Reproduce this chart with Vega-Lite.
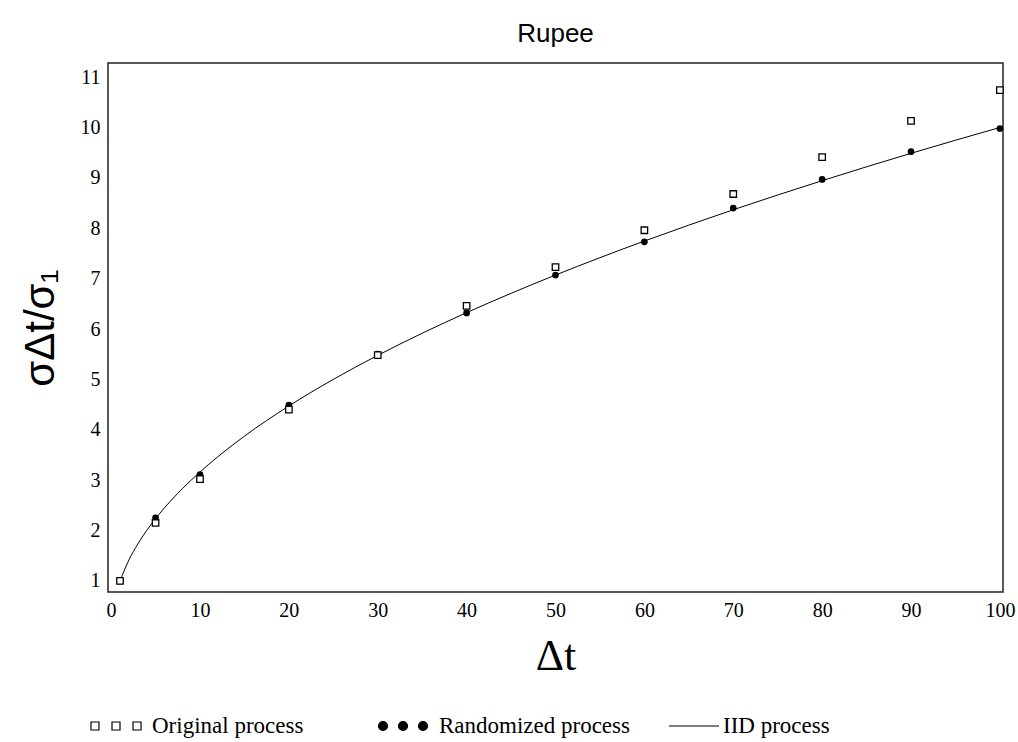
{
  "$schema": "https://vega.github.io/schema/vega-lite/v6.json",
  "autosize": {"type": "none"},
  "padding": {"left": 108, "top": 63, "right": 15, "bottom": 150},
  "width": 895,
  "height": 529,
  "background": "white",
  "title": {
    "text": "Rupee",
    "font": "Liberation Sans",
    "fontSize": 26,
    "fontWeight": "normal",
    "color": "black",
    "anchor": "middle",
    "offset": 16
  },
  "config": {
    "view": {"stroke": "#222", "strokeWidth": 1.5},
    "axis": {
      "domain": false,
      "ticks": false,
      "grid": false,
      "labelFont": "Liberation Serif",
      "labelFontSize": 20,
      "labelColor": "black",
      "labelPadding": 8,
      "titleColor": "black",
      "titleFontWeight": "normal"
    },
    "legend": {
      "padding": 0,
      "labelFont": "Liberation Serif",
      "labelFontSize": 23,
      "labelColor": "black",
      "labelLimit": 400,
      "symbolSize": 2500,
      "symbolStrokeColor": "black",
      "symbolStrokeWidth": 1.2,
      "symbolOpacity": 1
    }
  },
  "datasets": {
    "original": [
      {"dt": 1, "ratio": 1.0, "series": "Original process"},
      {"dt": 5, "ratio": 2.15, "series": "Original process"},
      {"dt": 10, "ratio": 3.02, "series": "Original process"},
      {"dt": 20, "ratio": 4.4, "series": "Original process"},
      {"dt": 30, "ratio": 5.48, "series": "Original process"},
      {"dt": 40, "ratio": 6.46, "series": "Original process"},
      {"dt": 50, "ratio": 7.23, "series": "Original process"},
      {"dt": 60, "ratio": 7.96, "series": "Original process"},
      {"dt": 70, "ratio": 8.68, "series": "Original process"},
      {"dt": 80, "ratio": 9.41, "series": "Original process"},
      {"dt": 90, "ratio": 10.13, "series": "Original process"},
      {"dt": 100, "ratio": 10.74, "series": "Original process"}
    ],
    "randomized": [
      {"dt": 1, "ratio": 1.0, "series": "Randomized process"},
      {"dt": 5, "ratio": 2.25, "series": "Randomized process"},
      {"dt": 10, "ratio": 3.11, "series": "Randomized process"},
      {"dt": 20, "ratio": 4.49, "series": "Randomized process"},
      {"dt": 30, "ratio": 5.5, "series": "Randomized process"},
      {"dt": 40, "ratio": 6.32, "series": "Randomized process"},
      {"dt": 50, "ratio": 7.07, "series": "Randomized process"},
      {"dt": 60, "ratio": 7.73, "series": "Randomized process"},
      {"dt": 70, "ratio": 8.4, "series": "Randomized process"},
      {"dt": 80, "ratio": 8.97, "series": "Randomized process"},
      {"dt": 90, "ratio": 9.52, "series": "Randomized process"},
      {"dt": 100, "ratio": 9.98, "series": "Randomized process"}
    ],
    "iid": [
      {"dt": 1, "ratio": 1.0, "series": "IID process"},
      {"dt": 2, "ratio": 1.414, "series": "IID process"},
      {"dt": 3, "ratio": 1.732, "series": "IID process"},
      {"dt": 4, "ratio": 2.0, "series": "IID process"},
      {"dt": 5, "ratio": 2.236, "series": "IID process"},
      {"dt": 6, "ratio": 2.449, "series": "IID process"},
      {"dt": 8, "ratio": 2.828, "series": "IID process"},
      {"dt": 10, "ratio": 3.162, "series": "IID process"},
      {"dt": 12, "ratio": 3.464, "series": "IID process"},
      {"dt": 15, "ratio": 3.873, "series": "IID process"},
      {"dt": 20, "ratio": 4.472, "series": "IID process"},
      {"dt": 25, "ratio": 5.0, "series": "IID process"},
      {"dt": 30, "ratio": 5.477, "series": "IID process"},
      {"dt": 35, "ratio": 5.916, "series": "IID process"},
      {"dt": 40, "ratio": 6.325, "series": "IID process"},
      {"dt": 45, "ratio": 6.708, "series": "IID process"},
      {"dt": 50, "ratio": 7.071, "series": "IID process"},
      {"dt": 55, "ratio": 7.416, "series": "IID process"},
      {"dt": 60, "ratio": 7.746, "series": "IID process"},
      {"dt": 65, "ratio": 8.062, "series": "IID process"},
      {"dt": 70, "ratio": 8.367, "series": "IID process"},
      {"dt": 75, "ratio": 8.66, "series": "IID process"},
      {"dt": 80, "ratio": 8.944, "series": "IID process"},
      {"dt": 85, "ratio": 9.22, "series": "IID process"},
      {"dt": 90, "ratio": 9.487, "series": "IID process"},
      {"dt": 95, "ratio": 9.747, "series": "IID process"},
      {"dt": 100, "ratio": 10.0, "series": "IID process"}
    ]
  },
  "encoding": {
    "x": {
      "field": "dt",
      "type": "quantitative",
      "scale": {"domain": [-0.35, 100.35], "nice": false, "zero": false},
      "axis": {
        "values": [0, 10, 20, 30, 40, 50, 60, 70, 80, 90, 100],
        "title": "Δt",
        "titleFont": "Liberation Serif",
        "titleFontSize": 44,
        "titlePadding": 14
      }
    },
    "y": {
      "field": "ratio",
      "type": "quantitative",
      "scale": {"domain": [0.78, 11.28], "nice": false, "zero": false},
      "axis": {
        "values": [1, 2, 3, 4, 5, 6, 7, 8, 9, 10, 11],
        "title": "σΔt/σ₁",
        "titleFont": "Liberation Sans",
        "titleFontSize": 42,
        "titlePadding": 18
      }
    }
  },
  "layer": [
    {
      "data": {"name": "iid"},
      "mark": {"type": "line", "strokeWidth": 1, "color": "black", "interpolate": "monotone"}
    },
    {
      "data": {"name": "randomized"},
      "mark": {"type": "point", "shape": "circle", "filled": true, "color": "black", "size": 45, "opacity": 1}
    },
    {
      "data": {"name": "original"},
      "mark": {"type": "point", "shape": "square", "filled": false, "color": "black", "fill": "white", "fillOpacity": 1, "strokeWidth": 1.3, "size": 42, "opacity": 1}
    },
    {
      "data": {"name": "original"},
      "transform": [{"filter": "false"}],
      "mark": {"type": "point", "filled": true, "opacity": 1},
      "encoding": {
        "shape": {
          "field": "series",
          "type": "nominal",
          "scale": {
            "domain": ["Original process", "Randomized process"],
            "range": [
              "M-1,-0.16h0.32v0.32h-0.32Z M-0.16,-0.16h0.32v0.32h-0.32Z M0.68,-0.16h0.32v0.32h-0.32Z",
              "M-0.98,0a0.18,0.18 0 1,0 0.36,0a0.18,0.18 0 1,0 -0.36,0Z M-0.18,0a0.18,0.18 0 1,0 0.36,0a0.18,0.18 0 1,0 -0.36,0Z M0.62,0a0.18,0.18 0 1,0 0.36,0a0.18,0.18 0 1,0 -0.36,0Z"
            ]
          },
          "legend": {
            "orient": "none",
            "legendX": -18,
            "legendY": 637,
            "direction": "horizontal",
            "title": null,
            "labelOffset": 10,
            "columnPadding": 72,
            "encode": {
              "symbols": {
                "update": {
                  "stroke": {"value": "black"},
                  "strokeWidth": {"value": 1.2},
                  "strokeOpacity": {"value": 1}
                }
              }
            }
          }
        },
        "fill": {
          "field": "series",
          "type": "nominal",
          "scale": {
            "domain": ["Original process", "Randomized process"],
            "range": ["white", "black"]
          },
          "legend": {
            "orient": "none",
            "legendX": -18,
            "legendY": 637,
            "direction": "horizontal",
            "title": null,
            "labelOffset": 10,
            "columnPadding": 72,
            "encode": {
              "symbols": {
                "update": {
                  "stroke": {"value": "black"},
                  "strokeWidth": {"value": 1.2},
                  "strokeOpacity": {"value": 1}
                }
              }
            }
          }
        }
      }
    },
    {
      "data": {"name": "iid"},
      "transform": [{"filter": "false"}],
      "mark": {"type": "line", "color": "black", "strokeWidth": 1.2},
      "encoding": {
        "strokeDash": {
          "field": "series",
          "type": "nominal",
          "scale": {"domain": ["IID process"], "range": [[1, 0]]},
          "legend": {
            "orient": "none",
            "legendX": 560,
            "legendY": 637,
            "direction": "horizontal",
            "title": null,
            "labelOffset": 3,
            "symbolType": "stroke"
          }
        }
      }
    }
  ]
}
